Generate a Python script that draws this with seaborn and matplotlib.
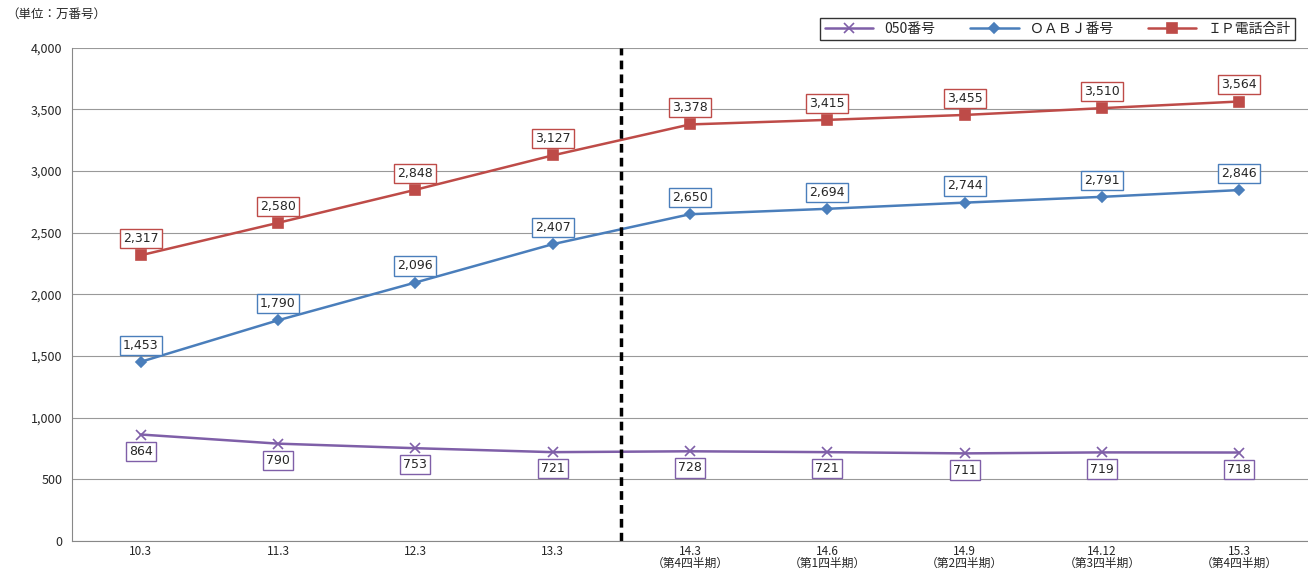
import matplotlib
matplotlib.use("Agg")
import matplotlib.pyplot as plt
import seaborn as sns
import pandas as pd

periods = ["10.3", "11.3", "12.3", "13.3", "14.3\n（第4四半期）", "14.6\n（第1四半期）",
           "14.9\n（第2四半期）", "14.12\n（第3四半期）", "15.3\n（第4四半期）"]
num050 = [864, 790, 753, 721, 728, 721, 711, 719, 718]
oabj = [1453, 1790, 2096, 2407, 2650, 2694, 2744, 2791, 2846]
ip_total = [2317, 2580, 2848, 3127, 3378, 3415, 3455, 3510, 3564]

sns.set_style("white")
plt.rcParams['font.family'] = ['Noto Sans CJK JP', 'DejaVu Sans']

fig = plt.figure(figsize=(13.08, 5.75), dpi=100)
ax = fig.add_axes([0.055, 0.059, 0.945, 0.858])

x = list(range(len(periods)))
series = [("050番号", num050, "#7F5FA8", "x", -1),
          ("ＯＡＢＪ番号", oabj, "#4A7EBB", "D", 1),
          ("ＩＰ電話合計", ip_total, "#BE4B48", "s", 1)]
for name, vals, col, mk, side in series:
    df = pd.DataFrame({"x": x, "v": vals})
    sns.lineplot(data=df, x="x", y="v", ax=ax, color=col, marker=mk, markersize=7 if mk != "D" else 5,
                 markeredgecolor=col, markeredgewidth=1.2, linewidth=1.8, label=name)
    for xi, v in zip(x, vals):
        ax.annotate(f"{v:,}", (xi, v), xytext=(0, 12 * side), textcoords="offset points",
                    ha="center", va="center", fontsize=9, family=['DejaVu Sans'],
                    bbox=dict(boxstyle="square,pad=0.25", fc="white", ec=col, lw=1))

ax.axvline(3.5, color="black", linestyle=(0, (2.5, 1.5)), linewidth=2.5)
ax.set_xlim(-0.5, 8.5)
ax.set_ylim(0, 4000)
ax.set_yticks(range(0, 4001, 500))
ax.set_yticklabels([f"{v:,}" for v in range(0, 4001, 500)], fontsize=9)
ax.yaxis.grid(True, color="#999999", linewidth=0.8)
ax.set_xticks(x)
ax.set_xticklabels(periods, fontsize=8.5, linespacing=0.85)
ax.tick_params(axis="x", length=0, pad=3)
ax.set_xticks([i + 0.5 for i in range(-1, 9)], minor=True)
ax.tick_params(axis="x", which="minor", length=4, color="#888888", direction="out")
ax.set_xlabel("")
ax.set_ylabel("")
for s in ["top", "right"]:
    ax.spines[s].set_visible(False)
ax.spines["left"].set_color("#888888")
ax.spines["bottom"].set_color("#888888")

leg = ax.legend(loc="upper right", bbox_to_anchor=(0.995, 1.075), ncol=3, frameon=True,
                fancybox=False, edgecolor="black", fontsize=10, handlelength=3.5,
                borderpad=0.3, columnspacing=2.5)
fig.text(0.005, 0.975, "（単位：万番号）", fontsize=9, va="center")

fig.savefig("out.png", dpi=100)
